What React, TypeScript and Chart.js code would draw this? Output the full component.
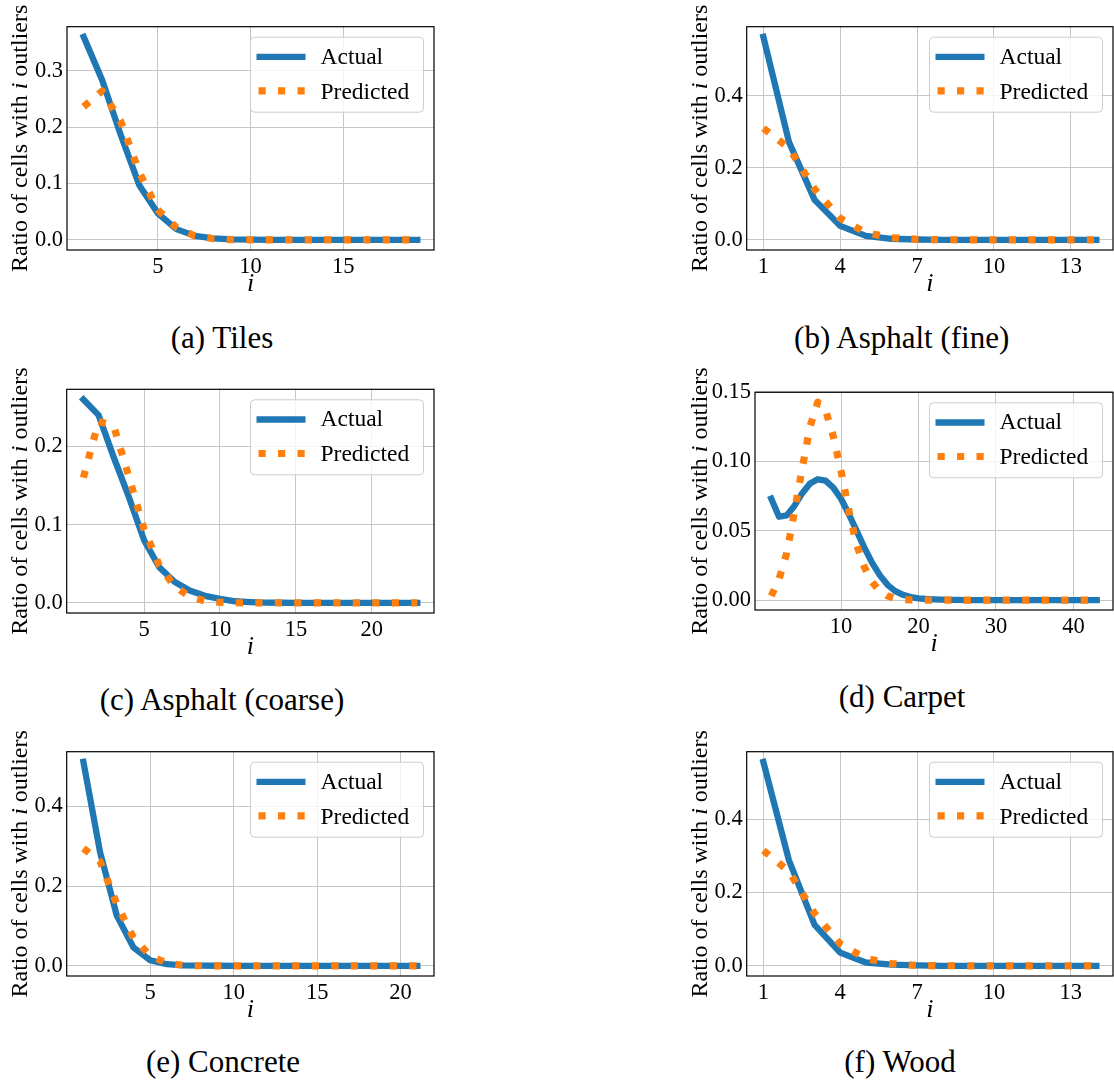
import React, { useEffect, useRef } from 'react';
import { Chart, registerables } from 'chart.js';

Chart.register(...registerables);

const BLUE = '#1f77b4';
const ORANGE = '#ff7f0e';
const GRID = '#c6c6c6';
const FONT = '"Liberation Serif", "Times New Roman", serif';

// ---- series: ratio of cells with i outliers, i = 1..N ----
const TILES_ACTUAL = [0.36, 0.283, 0.186, 0.097, 0.047, 0.019, 0.007, 0.0025, 0.001, 0.0003, 0, 0, 0, 0, 0, 0, 0, 0, 0];
const TILES_PREDICTED = [0.236, 0.264, 0.21, 0.12, 0.053, 0.022, 0.007, 0.002, 0.0005, 0.0001, 0, 0, 0, 0, 0, 0, 0, 0, 0];

const FINE_ACTUAL = [0.564, 0.272, 0.111, 0.039, 0.011, 0.003, 0.001, 0, 0, 0, 0, 0, 0, 0];
const FINE_PREDICTED = [0.31, 0.255, 0.141, 0.06, 0.02, 0.006, 0.0015, 0.0003, 0, 0, 0, 0, 0, 0];

const COARSE_ACTUAL = [0.26, 0.24, 0.186, 0.135, 0.08, 0.0455, 0.027, 0.0157, 0.009, 0.005, 0.002, 0.001, 0.0003, 0.0001, 0, 0, 0, 0, 0, 0, 0, 0, 0];
const COARSE_PREDICTED = [0.16, 0.232, 0.226, 0.161, 0.094, 0.048, 0.021, 0.008, 0.0025, 0.0006, 0.0001, 0, 0, 0, 0, 0, 0, 0, 0, 0, 0, 0, 0];

const CARPET_ACTUAL = [
  0.073, 0.06, 0.061, 0.068, 0.077, 0.084, 0.087, 0.086, 0.081, 0.073,
  0.062, 0.05, 0.038, 0.027, 0.018, 0.011, 0.0065, 0.0038, 0.0022, 0.0013,
  0.0008, 0.0005, 0.0003, 0.0002, 0.0001, 0, 0, 0, 0, 0,
  0, 0, 0, 0, 0, 0, 0, 0, 0, 0,
  0, 0, 0,
];
const CARPET_PREDICTED = [
  0.003, 0.015, 0.034, 0.064, 0.095, 0.125, 0.1425, 0.137, 0.118, 0.093,
  0.065, 0.04, 0.024, 0.013, 0.0065, 0.003, 0.0012, 0.0004, 0.0001, 0,
  0, 0, 0, 0, 0, 0, 0, 0, 0, 0,
  0, 0, 0, 0, 0, 0, 0, 0, 0, 0,
  0, 0, 0,
];

const CONCRETE_ACTUAL = [0.512, 0.285, 0.126, 0.046, 0.014, 0.004, 0.001, 0.0003, 0.0001, 0, 0, 0, 0, 0, 0, 0, 0, 0, 0, 0, 0];
const CONCRETE_PREDICTED = [0.295, 0.262, 0.155, 0.07, 0.025, 0.007, 0.001, 0.0002, 0, 0, 0, 0, 0, 0, 0, 0, 0, 0, 0, 0, 0];

const WOOD_ACTUAL = [0.557, 0.288, 0.112, 0.036, 0.009, 0.003, 0.001, 0, 0, 0, 0, 0, 0, 0];
const WOOD_PREDICTED = [0.315, 0.258, 0.143, 0.06, 0.02, 0.006, 0.001, 0.0002, 0, 0, 0, 0, 0, 0];

// ---- tick labels ----
const X_TICKS_5 = [5, 10, 15];
const X_TICKS_3 = [1, 4, 7, 10, 13];
const X_TICKS_5_20 = [5, 10, 15, 20];
const X_TICKS_10 = [10, 20, 30, 40];
const Y_TICKS_TILES = [0, 0.1, 0.2, 0.3];
const Y_TICKS_02 = [0, 0.2, 0.4];
const Y_TICKS_COARSE = [0, 0.1, 0.2];
const Y_TICKS_CARPET = [0, 0.05, 0.1, 0.15];

const SERIES_NAMES = ['Actual', 'Predicted'];
const Y_TITLE_PARTS = [
  { text: 'Ratio of cells with ', italic: false },
  { text: 'i', italic: true },
  { text: ' outliers', italic: false },
];

type PanelSpec = {
  id: string;
  caption: string;
  actual: number[];
  predicted: number[];
  xTicks: number[];
  yTicks: number[];
  yDigits: number;
};

const PANELS: PanelSpec[] = [
  { id: 'a', caption: '(a) Tiles', actual: TILES_ACTUAL, predicted: TILES_PREDICTED, xTicks: X_TICKS_5, yTicks: Y_TICKS_TILES, yDigits: 1 },
  { id: 'b', caption: '(b) Asphalt (fine)', actual: FINE_ACTUAL, predicted: FINE_PREDICTED, xTicks: X_TICKS_3, yTicks: Y_TICKS_02, yDigits: 1 },
  { id: 'c', caption: '(c) Asphalt (coarse)', actual: COARSE_ACTUAL, predicted: COARSE_PREDICTED, xTicks: X_TICKS_5_20, yTicks: Y_TICKS_COARSE, yDigits: 1 },
  { id: 'd', caption: '(d) Carpet', actual: CARPET_ACTUAL, predicted: CARPET_PREDICTED, xTicks: X_TICKS_10, yTicks: Y_TICKS_CARPET, yDigits: 2 },
  { id: 'e', caption: '(e) Concrete', actual: CONCRETE_ACTUAL, predicted: CONCRETE_PREDICTED, xTicks: X_TICKS_5_20, yTicks: Y_TICKS_02, yDigits: 1 },
  { id: 'f', caption: '(f) Wood', actual: WOOD_ACTUAL, predicted: WOOD_PREDICTED, xTicks: X_TICKS_3, yTicks: Y_TICKS_02, yDigits: 1 },
];

// ---- page geometry (plot rectangle: left, top, right, bottom; caption centre) ----
type Geometry = { col: number; plot: [number, number, number, number]; caption: [number, number] };
const LAYOUT: Record<string, Geometry> = {
  a: { col: 0, plot: [67, 26.7, 434, 250], caption: [222, 338] },
  b: { col: 1, plot: [746.7, 26.7, 1113, 250], caption: [901.7, 338] },
  c: { col: 0, plot: [66.7, 389.3, 434, 612.7], caption: [222, 700] },
  d: { col: 1, plot: [755, 392.3, 1113, 610], caption: [902, 697] },
  e: { col: 0, plot: [66.7, 751.7, 434, 975.7], caption: [223, 1062] },
  f: { col: 1, plot: [746.7, 751.7, 1113, 975.7], caption: [900, 1062] },
};
const COLUMNS = [
  { left: 0, width: 450, yTitleX: 26.7 },
  { left: 680, width: 434, yTitleX: 707 },
];
const TOP_PAD = 32;
const X_AXIS_H = 60;
const Y_AXIS_W = 60;

const TICK_SIZE = 22.5;
const LEGEND_SIZE = 23.5;
const LABEL_SIZE = 24;
const CAPTION_SIZE = 31;

// 5% margins around the data range, as in the default autoscale
function paddedRange(lo: number, hi: number): [number, number] {
  const pad = (hi - lo) * 0.05;
  return [lo - pad, hi + pad];
}

function toPoints(values: number[]) {
  return values.map((y, i) => ({ x: i + 1, y }));
}

function PanelChart({ panel }: { panel: PanelSpec }) {
  const ref = useRef<HTMLCanvasElement>(null);
  const geo = LAYOUT[panel.id];
  const column = COLUMNS[geo.col];
  const [pl, pt, pr, pb] = geo.plot;
  const canvasTop = Math.round(pt - TOP_PAD);
  const canvasH = Math.round(pb - canvasTop + X_AXIS_H);
  const canvasW = column.width;

  useEffect(() => {
    const canvas = ref.current;
    if (!canvas) return;
    const all = panel.actual.concat(panel.predicted);
    const [yMin, yMax] = paddedRange(Math.min(...all), Math.max(...all));
    const [xMin, xMax] = paddedRange(1, panel.actual.length);

    const framePlugin = {
      id: 'frame',
      afterDatasetsDraw(chart: any) {
        const { ctx, chartArea: a } = chart;
        ctx.save();
        ctx.strokeStyle = '#000';
        ctx.lineWidth = 1.2;
        ctx.strokeRect(a.left, a.top, a.right - a.left, a.bottom - a.top);
        ctx.restore();
      },
    };

    const legendPlugin = {
      id: 'boxLegend',
      afterDraw(chart: any) {
        const { ctx, chartArea: a } = chart;
        const bw = 173;
        const bh = 75;
        const bx = a.right - 10.5 - bw;
        const by = a.top + 10.5;
        ctx.save();
        ctx.beginPath();
        ctx.roundRect(bx, by, bw, bh, 4);
        ctx.fillStyle = 'rgba(255,255,255,0.8)';
        ctx.fill();
        ctx.strokeStyle = '#cccccc';
        ctx.lineWidth = 1;
        ctx.stroke();
        chart.data.datasets.forEach((ds: any, k: number) => {
          const hy = by + 19.7 + k * 34;
          ctx.beginPath();
          ctx.strokeStyle = ds.borderColor;
          ctx.lineWidth = ds.borderWidth;
          ctx.lineCap = 'butt';
          ctx.setLineDash(ds.borderDash || []);
          ctx.moveTo(bx + (ds.borderDash ? 8 : 6), hy);
          ctx.lineTo(bx + 55, hy);
          ctx.stroke();
          ctx.setLineDash([]);
          ctx.fillStyle = '#000';
          ctx.font = `${LEGEND_SIZE}px ${FONT}`;
          ctx.textAlign = 'left';
          ctx.textBaseline = 'alphabetic';
          ctx.fillText(ds.label, bx + 70, by + 26.3 + k * 35);
        });
        ctx.restore();
      },
    };

    const yTitlePlugin = {
      id: 'yTitle',
      afterDraw(chart: any) {
        const { ctx, chartArea: a } = chart;
        const fonts = Y_TITLE_PARTS.map((p) => `${p.italic ? 'italic ' : ''}${LABEL_SIZE}px ${FONT}`);
        const widths = Y_TITLE_PARTS.map((p, k) => {
          ctx.font = fonts[k];
          return ctx.measureText(p.text).width;
        });
        const total = widths.reduce((s, w) => s + w, 0);
        ctx.save();
        ctx.translate(column.yTitleX - column.left, (a.top + a.bottom) / 2);
        ctx.rotate(-Math.PI / 2);
        ctx.fillStyle = '#000';
        ctx.textAlign = 'left';
        ctx.textBaseline = 'alphabetic';
        let cx = -total / 2;
        Y_TITLE_PARTS.forEach((p, k) => {
          ctx.font = fonts[k];
          ctx.fillText(p.text, cx, 0);
          cx += widths[k];
        });
        ctx.restore();
      },
    };

    const chart = new Chart(canvas, {
      type: 'line',
      data: {
        datasets: [
          {
            label: SERIES_NAMES[0],
            data: toPoints(panel.actual),
            borderColor: BLUE,
            backgroundColor: BLUE,
            borderWidth: 6.3,
            borderCapStyle: 'square',
            borderJoinStyle: 'round',
            pointRadius: 0,
            tension: 0,
            fill: false,
            order: 1,
          },
          {
            label: SERIES_NAMES[1],
            data: toPoints(panel.predicted),
            borderColor: ORANGE,
            backgroundColor: ORANGE,
            borderWidth: 7.2,
            borderDash: [7.2, 12.3],
            borderCapStyle: 'butt',
            borderJoinStyle: 'round',
            pointRadius: 0,
            tension: 0,
            fill: false,
            order: 0,
          },
        ],
      } as any,
      options: {
        animation: false,
        responsive: false,
        devicePixelRatio: 1,
        events: [],
        layout: {
          padding: {
            left: pl - column.left - Y_AXIS_W,
            top: pt - canvasTop,
            right: column.left + canvasW - pr,
            bottom: 0,
          },
        },
        plugins: {
          legend: { display: false },
          tooltip: { enabled: false },
          title: { display: false },
        },
        scales: {
          x: {
            type: 'linear',
            min: xMin,
            max: xMax,
            afterBuildTicks: (s: any) => {
              s.ticks = panel.xTicks.map((v) => ({ value: v }));
            },
            afterFit: (s: any) => {
              s.height = X_AXIS_H;
            },
            grid: { color: GRID, lineWidth: 1, drawTicks: false },
            border: { display: false },
            ticks: {
              autoSkip: false,
              maxRotation: 0,
              padding: 3.5,
              color: '#000',
              font: { family: FONT, size: TICK_SIZE },
              callback: (v: any) => String(v),
            },
            title: {
              display: true,
              text: 'i',
              color: '#000',
              font: { family: FONT, size: 26, style: 'italic', lineHeight: 1 },
              padding: { top: 0, bottom: 13.2 },
            },
          },
          y: {
            type: 'linear',
            min: yMin,
            max: yMax,
            afterBuildTicks: (s: any) => {
              s.ticks = panel.yTicks.map((v) => ({ value: v }));
            },
            afterFit: (s: any) => {
              s.width = Y_AXIS_W;
            },
            grid: { color: GRID, lineWidth: 1, drawTicks: false },
            border: { display: false },
            ticks: {
              autoSkip: false,
              padding: 4,
              color: '#000',
              font: { family: FONT, size: TICK_SIZE },
              callback: (v: any) => Number(v).toFixed(panel.yDigits),
            },
          },
        },
      } as any,
      plugins: [framePlugin, legendPlugin, yTitlePlugin],
    });
    return () => chart.destroy();
  }, [panel]);

  return (
    <canvas
      ref={ref}
      width={canvasW}
      height={canvasH}
      style={{ position: 'absolute', left: column.left, top: canvasTop, width: canvasW, height: canvasH }}
    />
  );
}

export default function App() {
  return (
    <div
      style={{
        position: 'absolute',
        left: 0,
        top: 0,
        width: 1114,
        height: 1081,
        background: '#fff',
        overflow: 'hidden',
      }}
    >
      {PANELS.map((p) => (
        <PanelChart key={p.id} panel={p} />
      ))}
      {PANELS.map((p) => {
        const [cx, cy] = LAYOUT[p.id].caption;
        return (
          <div
            key={`cap-${p.id}`}
            style={{
              position: 'absolute',
              left: cx - 200,
              top: cy - 17,
              width: 400,
              height: 34,
              lineHeight: '34px',
              textAlign: 'center',
              fontFamily: FONT,
              fontSize: CAPTION_SIZE,
              color: '#000',
              whiteSpace: 'nowrap',
            }}
          >
            {p.caption}
          </div>
        );
      })}
    </div>
  );
}
